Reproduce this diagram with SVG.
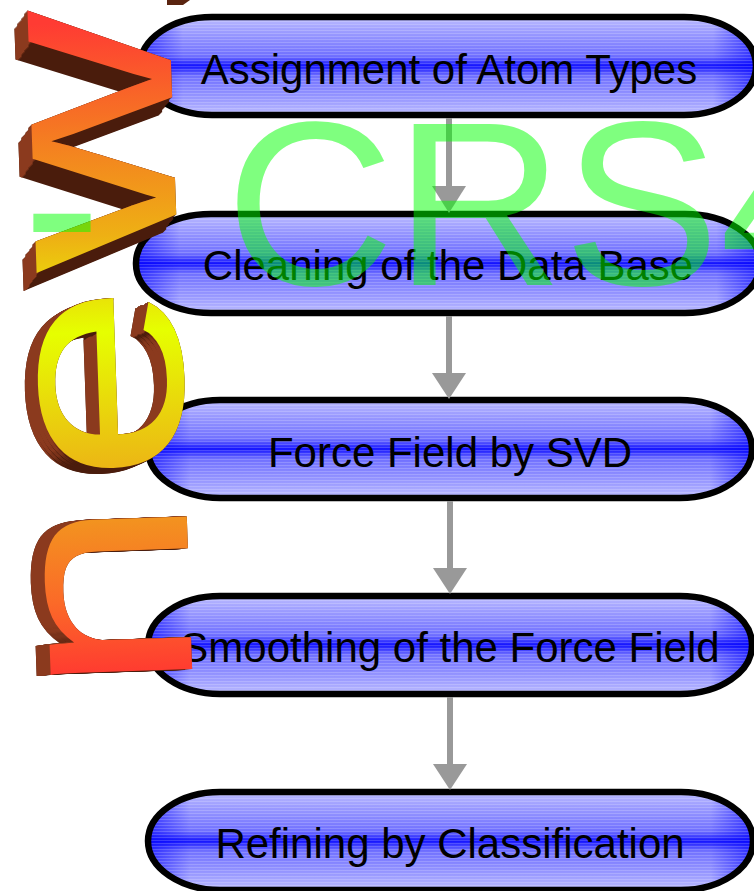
<svg xmlns="http://www.w3.org/2000/svg" width="754" height="891" viewBox="0 0 754 891">
<defs>
<style>
.pill{stroke:#000;stroke-width:6.5;fill:none}
.pv{fill:url(#pv)}
.ph{fill:url(#ph)}
.hatch{fill:url(#hatch)}
.lbl{font-family:"Liberation Sans",Arial,sans-serif;font-size:42px;fill:#000;text-anchor:middle}
.shaft{stroke:#999;stroke-width:6;fill:none}
.head{fill:#999}
</style>
<linearGradient id="pv" x1="0" y1="0" x2="0" y2="1">
<stop offset="0" stop-color="#bcbcff"/>
<stop offset="0.15" stop-color="#9c9cff"/>
<stop offset="0.4" stop-color="#7070ff"/>
<stop offset="0.5" stop-color="#1414ff"/>
<stop offset="0.6" stop-color="#7070ff"/>
<stop offset="0.85" stop-color="#9c9cff"/>
<stop offset="1" stop-color="#bcbcff"/>
</linearGradient>
<linearGradient id="ph" x1="0" y1="0" x2="1" y2="0">
<stop offset="0" stop-color="#0000ff" stop-opacity="0.6"/>
<stop offset="0.07" stop-color="#0000ff" stop-opacity="0"/>
<stop offset="0.93" stop-color="#0000ff" stop-opacity="0"/>
<stop offset="1" stop-color="#0000ff" stop-opacity="0.6"/>
</linearGradient>
<pattern id="hatch" width="8" height="3" patternUnits="userSpaceOnUse">
<rect width="8" height="1" fill="#fff" fill-opacity="0.18"/>
</pattern>
<linearGradient id="face" gradientUnits="userSpaceOnUse" x1="0" y1="0" x2="510" y2="0">
<stop offset="0.035" stop-color="#ff3b30"/>
<stop offset="0.14" stop-color="#fb6a28"/>
<stop offset="0.25" stop-color="#f39020"/>
<stop offset="0.33" stop-color="#ecb515"/>
<stop offset="0.53" stop-color="#e6ff00"/>
<stop offset="0.67" stop-color="#eeb014"/>
<stop offset="0.82" stop-color="#f57a22"/>
<stop offset="0.98" stop-color="#ff3b33"/>
</linearGradient>
<filter id="extrude" filterUnits="userSpaceOnUse" x="-10" y="-40" width="270" height="760" color-interpolation-filters="sRGB">
<feOffset in="SourceAlpha" dx="3" dy="1.5" result="sh"/>
<feComposite in="SourceAlpha" in2="sh" operator="out" result="band"/>
<feOffset in="SourceAlpha" dx="-0.875" dy="1.19" y="-40" height="332" result="wa1"/>
<feMerge y="-40" height="332" result="wb1"><feMergeNode in="SourceAlpha"/><feMergeNode in="wa1"/></feMerge>
<feOffset in="wb1" dx="-1.75" dy="2.38" y="-40" height="332" result="wa2"/>
<feMerge y="-40" height="332" result="wb2"><feMergeNode in="wb1"/><feMergeNode in="wa2"/></feMerge>
<feOffset in="wb2" dx="-3.5" dy="4.75" y="-40" height="332" result="wa3"/>
<feMerge y="-40" height="332" result="wb3"><feMergeNode in="wb2"/><feMergeNode in="wa3"/></feMerge>
<feOffset in="wb3" dx="-7" dy="9.5" y="-40" height="332" result="wa4"/>
<feMerge y="-40" height="332" result="wD"><feMergeNode in="wb3"/><feMergeNode in="wa4"/></feMerge>
<feOffset in="band" dx="-0.875" dy="1.19" y="-40" height="332" result="wc1"/>
<feMerge y="-40" height="332" result="wd1"><feMergeNode in="band"/><feMergeNode in="wc1"/></feMerge>
<feOffset in="wd1" dx="-1.75" dy="2.38" y="-40" height="332" result="wc2"/>
<feMerge y="-40" height="332" result="wd2"><feMergeNode in="wd1"/><feMergeNode in="wc2"/></feMerge>
<feOffset in="wd2" dx="-3.5" dy="4.75" y="-40" height="332" result="wc3"/>
<feMerge y="-40" height="332" result="wd3"><feMergeNode in="wd2"/><feMergeNode in="wc3"/></feMerge>
<feOffset in="wd3" dx="-7" dy="9.5" y="-40" height="332" result="wc4"/>
<feMerge y="-40" height="332" result="wB"><feMergeNode in="wd3"/><feMergeNode in="wc4"/></feMerge>
<feOffset in="SourceAlpha" dx="-0.875" dy="0.375" y="287" height="218" result="ea1"/>
<feMerge y="287" height="218" result="eb1"><feMergeNode in="SourceAlpha"/><feMergeNode in="ea1"/></feMerge>
<feOffset in="eb1" dx="-1.75" dy="0.75" y="287" height="218" result="ea2"/>
<feMerge y="287" height="218" result="eb2"><feMergeNode in="eb1"/><feMergeNode in="ea2"/></feMerge>
<feOffset in="eb2" dx="-3.5" dy="1.5" y="287" height="218" result="ea3"/>
<feMerge y="287" height="218" result="eb3"><feMergeNode in="eb2"/><feMergeNode in="ea3"/></feMerge>
<feOffset in="eb3" dx="-7" dy="3" y="287" height="218" result="ea4"/>
<feMerge y="287" height="218" result="eD"><feMergeNode in="eb3"/><feMergeNode in="ea4"/></feMerge>
<feOffset in="band" dx="-0.875" dy="0.375" y="287" height="218" result="ec1"/>
<feMerge y="287" height="218" result="ed1"><feMergeNode in="band"/><feMergeNode in="ec1"/></feMerge>
<feOffset in="ed1" dx="-1.75" dy="0.75" y="287" height="218" result="ec2"/>
<feMerge y="287" height="218" result="ed2"><feMergeNode in="ed1"/><feMergeNode in="ec2"/></feMerge>
<feOffset in="ed2" dx="-3.5" dy="1.5" y="287" height="218" result="ec3"/>
<feMerge y="287" height="218" result="ed3"><feMergeNode in="ed2"/><feMergeNode in="ec3"/></feMerge>
<feOffset in="ed3" dx="-7" dy="3" y="287" height="218" result="ec4"/>
<feMerge y="287" height="218" result="eB"><feMergeNode in="ed3"/><feMergeNode in="ec4"/></feMerge>
<feOffset in="SourceAlpha" dx="-0.94" dy="0.06" y="505" height="215" result="na1"/>
<feMerge y="505" height="215" result="nb1"><feMergeNode in="SourceAlpha"/><feMergeNode in="na1"/></feMerge>
<feOffset in="nb1" dx="-1.88" dy="0.12" y="505" height="215" result="na2"/>
<feMerge y="505" height="215" result="nb2"><feMergeNode in="nb1"/><feMergeNode in="na2"/></feMerge>
<feOffset in="nb2" dx="-3.75" dy="0.25" y="505" height="215" result="na3"/>
<feMerge y="505" height="215" result="nb3"><feMergeNode in="nb2"/><feMergeNode in="na3"/></feMerge>
<feOffset in="nb3" dx="-7.5" dy="0.5" y="505" height="215" result="na4"/>
<feMerge y="505" height="215" result="nD"><feMergeNode in="nb3"/><feMergeNode in="na4"/></feMerge>
<feOffset in="band" dx="-0.94" dy="0.06" y="505" height="215" result="nc1"/>
<feMerge y="505" height="215" result="nd1"><feMergeNode in="band"/><feMergeNode in="nc1"/></feMerge>
<feOffset in="nd1" dx="-1.88" dy="0.12" y="505" height="215" result="nc2"/>
<feMerge y="505" height="215" result="nd2"><feMergeNode in="nd1"/><feMergeNode in="nc2"/></feMerge>
<feOffset in="nd2" dx="-3.75" dy="0.25" y="505" height="215" result="nc3"/>
<feMerge y="505" height="215" result="nd3"><feMergeNode in="nd2"/><feMergeNode in="nc3"/></feMerge>
<feOffset in="nd3" dx="-7.5" dy="0.5" y="505" height="215" result="nc4"/>
<feMerge y="505" height="215" result="nB"><feMergeNode in="nd3"/><feMergeNode in="nc4"/></feMerge>
<feMerge result="darkA"><feMergeNode in="wD"/><feMergeNode in="eD"/><feMergeNode in="nD"/></feMerge>
<feMerge result="brownA"><feMergeNode in="wB"/><feMergeNode in="eB"/><feMergeNode in="nB"/></feMerge>
<feFlood flood-color="#4a1c0c" result="dc"/>
<feComposite in="dc" in2="darkA" operator="in" result="dark"/>
<feFlood flood-color="#8b3a1e" result="bc"/>
<feComposite in="bc" in2="brownA" operator="in" result="brown"/>
<feMerge><feMergeNode in="dark"/><feMergeNode in="brown"/><feMergeNode in="SourceGraphic"/></feMerge>
</filter>
</defs>

<rect width="754" height="891" fill="#fff"/>

<g id="node-assignment">
<rect class="pv" x="140" y="17" width="616" height="98" rx="72" ry="49"/>
<rect class="ph" x="140" y="17" width="616" height="98" rx="72" ry="49"/>
<rect class="hatch" x="140" y="17" width="616" height="98" rx="72" ry="49"/>
<rect class="pill" x="140" y="17" width="616" height="98" rx="72" ry="49"/>
<text class="lbl" x="449" y="84">Assignment of Atom Types</text>
</g>
<g id="node-cleaning">
<rect class="pv" x="136" y="214" width="624" height="99" rx="75" ry="49"/>
<rect class="ph" x="136" y="214" width="624" height="99" rx="75" ry="49"/>
<rect class="hatch" x="136" y="214" width="624" height="99" rx="75" ry="49"/>
<rect class="pill" x="136" y="214" width="624" height="99" rx="75" ry="49"/>
<text class="lbl" x="448" y="280">Cleaning of the Data Base</text>
</g>
<g id="node-svd">
<rect class="pv" x="148" y="400" width="604" height="98" rx="72" ry="49"/>
<rect class="ph" x="148" y="400" width="604" height="98" rx="72" ry="49"/>
<rect class="hatch" x="148" y="400" width="604" height="98" rx="72" ry="49"/>
<rect class="pill" x="148" y="400" width="604" height="98" rx="72" ry="49"/>
<text class="lbl" x="450" y="467">Force Field by SVD</text>
</g>
<g id="node-smoothing">
<rect class="pv" x="148" y="596" width="604" height="98" rx="72" ry="49"/>
<rect class="ph" x="148" y="596" width="604" height="98" rx="72" ry="49"/>
<rect class="hatch" x="148" y="596" width="604" height="98" rx="72" ry="49"/>
<rect class="pill" x="148" y="596" width="604" height="98" rx="72" ry="49"/>
<text class="lbl" x="450" y="662">Smoothing of the Force Field</text>
</g>
<g id="node-refining">
<rect class="pv" x="148" y="792" width="605" height="98" rx="72" ry="49"/>
<rect class="ph" x="148" y="792" width="605" height="98" rx="72" ry="49"/>
<rect class="hatch" x="148" y="792" width="605" height="98" rx="72" ry="49"/>
<rect class="pill" x="148" y="792" width="605" height="98" rx="72" ry="49"/>
<text class="lbl" x="450" y="858">Refining by Classification</text>
</g>

<g id="connectors">
<line class="shaft" x1="449" y1="118" x2="449" y2="188"/>
<polygon class="head" points="432,186 466,186 449,213"/>
<line class="shaft" x1="449" y1="316" x2="449" y2="375"/>
<polygon class="head" points="432,373 466,373 449,399"/>
<line class="shaft" x1="450" y1="501" x2="450" y2="570"/>
<polygon class="head" points="433,568 467,568 450,594"/>
<line class="shaft" x1="450" y1="697" x2="450" y2="766"/>
<polygon class="head" points="433,764 467,764 450,790"/>
</g>

<g id="new-logo">
<polygon points="167,0 190,0 183,5 167,5" fill="#5a2410"/>
<g filter="url(#extrude)">
<text transform="translate(193,694) rotate(-92) scale(1.35,1)" font-family="'Liberation Sans',Arial,sans-serif" font-size="268" letter-spacing="9" fill="url(#face)">new</text>
</g>
</g>

<g id="crs4-watermark">
<text font-family="'Liberation Sans',Arial,sans-serif" font-size="234" fill="#00ff00" fill-opacity="0.5" y="285"><tspan x="23">-</tspan><tspan x="225.5">CRS4</tspan></text>
</g>
</svg>
